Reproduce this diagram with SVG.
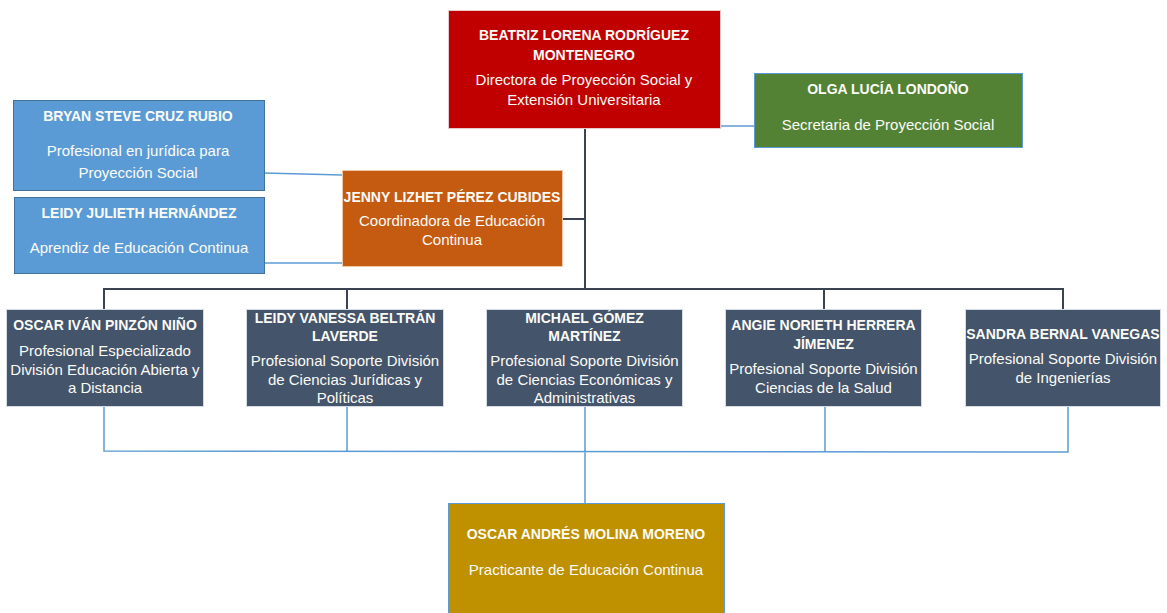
<svg xmlns="http://www.w3.org/2000/svg" width="1167" height="613" viewBox="0 0 1167 613">
<style>
text{font-family:"Liberation Sans",Arial,sans-serif;fill:#fbfbf6;text-anchor:middle}
.n{font-weight:bold;font-size:14px}
.r{font-size:15px}
.dk{stroke:#3b4252;stroke-width:2;fill:none}
.lb{stroke:#5b9bd5;stroke-width:1.5;fill:none}
</style>
<rect width="1167" height="613" fill="#ffffff"/>
<g id="connectors">
<path class="dk" d="M585 128 V289"/>
<path class="dk" d="M562 219 H585"/>
<path class="dk" d="M104 310 V289 H1063 V310 M347 289 V310 M824 289 V310"/>
<path class="lb" d="M720 126 H754"/>
<path class="lb" d="M264 173 L342 175"/>
<path class="lb" d="M264 263 L342 263"/>
<path class="lb" d="M104 406 V451 L1068 452 V406 M347 406 V451 M825 406 V452 M585 406 V503"/>
</g>
<g id="n-beatriz">
<rect x="448.5" y="10.5" width="272" height="118" fill="#c00000" stroke="#e8c8c8"/>
<text class="n" x="584" y="40">BEATRIZ LORENA RODRÍGUEZ</text>
<text class="n" x="584" y="60">MONTENEGRO</text>
<text class="r" x="584" y="85">Directora de Proyección Social y</text>
<text class="r" x="584" y="105">Extensión Universitaria</text>
</g>
<g id="n-olga">
<rect x="754.5" y="73.5" width="268" height="74" fill="#548235" stroke="#5b9bd5"/>
<text class="n" x="888" y="94">OLGA LUCÍA LONDOÑO</text>
<text class="r" x="888" y="130">Secretaria de Proyección Social</text>
</g>
<g id="n-bryan">
<rect x="13.5" y="100.5" width="251" height="90" fill="#5b9bd5" stroke="#41719c"/>
<text class="n" x="138" y="121">BRYAN STEVE CRUZ RUBIO</text>
<text class="r" x="138" y="156">Profesional en jurídica para</text>
<text class="r" x="138" y="178">Proyección Social</text>
</g>
<g id="n-leidy-j">
<rect x="14.5" y="197.5" width="250" height="76" fill="#5b9bd5" stroke="#41719c"/>
<text class="n" x="139" y="218">LEIDY JULIETH HERNÁNDEZ</text>
<text class="r" x="139" y="253">Aprendiz de Educación Continua</text>
</g>
<g id="n-jenny">
<rect x="342.5" y="170.5" width="220" height="96" fill="#c55a11" stroke="#f0c8a8"/>
<text class="n" x="452" y="202">JENNY LIZHET PÉREZ CUBIDES</text>
<text class="r" x="452" y="226">Coordinadora de Educación</text>
<text class="r" x="452" y="245">Continua</text>
</g>
<g id="n-oscar-ivan">
<rect x="6.5" y="309.5" width="197" height="97" fill="#44546a" stroke="#d6dce4"/>
<text class="n" x="105" y="330">OSCAR IVÁN PINZÓN NIÑO</text>
<text class="r" x="105" y="356">Profesional Especializado</text>
<text class="r" x="105" y="375">División Educación Abierta y</text>
<text class="r" x="105" y="393">a Distancia</text>
</g>
<g id="n-leidy-v">
<rect x="246.5" y="309.5" width="197" height="97" fill="#44546a" stroke="#d6dce4"/>
<text class="n" x="345" y="323">LEIDY VANESSA BELTRÁN</text>
<text class="n" x="345" y="341">LAVERDE</text>
<text class="r" x="345" y="366">Profesional Soporte División</text>
<text class="r" x="345" y="385">de Ciencias Jurídicas y</text>
<text class="r" x="345" y="403">Políticas</text>
</g>
<g id="n-michael">
<rect x="486.5" y="309.5" width="196" height="97" fill="#44546a" stroke="#d6dce4"/>
<text class="n" x="584.5" y="323">MICHAEL GÓMEZ</text>
<text class="n" x="584.5" y="341">MARTÍNEZ</text>
<text class="r" x="584.5" y="366">Profesional Soporte División</text>
<text class="r" x="584.5" y="385">de Ciencias Económicas y</text>
<text class="r" x="584.5" y="403">Administrativas</text>
</g>
<g id="n-angie">
<rect x="725.5" y="309.5" width="196" height="97" fill="#44546a" stroke="#d6dce4"/>
<text class="n" x="823.5" y="330">ANGIE NORIETH HERRERA</text>
<text class="n" x="823.5" y="349">JÍMENEZ</text>
<text class="r" x="823.5" y="374">Profesional Soporte División</text>
<text class="r" x="823.5" y="393">Ciencias de la Salud</text>
</g>
<g id="n-sandra">
<rect x="965.5" y="309.5" width="195" height="97" fill="#44546a" stroke="#d6dce4"/>
<text class="n" x="1063" y="339">SANDRA BERNAL VANEGAS</text>
<text class="r" x="1063" y="364">Profesional Soporte División</text>
<text class="r" x="1063" y="383">de Ingenierías</text>
</g>
<g id="n-oscar-andres">
<rect x="448.5" y="503.5" width="276" height="120" fill="#bf9000" stroke="#5b9bd5"/>
<text class="n" x="586" y="539">OSCAR ANDRÉS MOLINA MORENO</text>
<text class="r" x="586" y="575">Practicante de Educación Continua</text>
</g>
</svg>
